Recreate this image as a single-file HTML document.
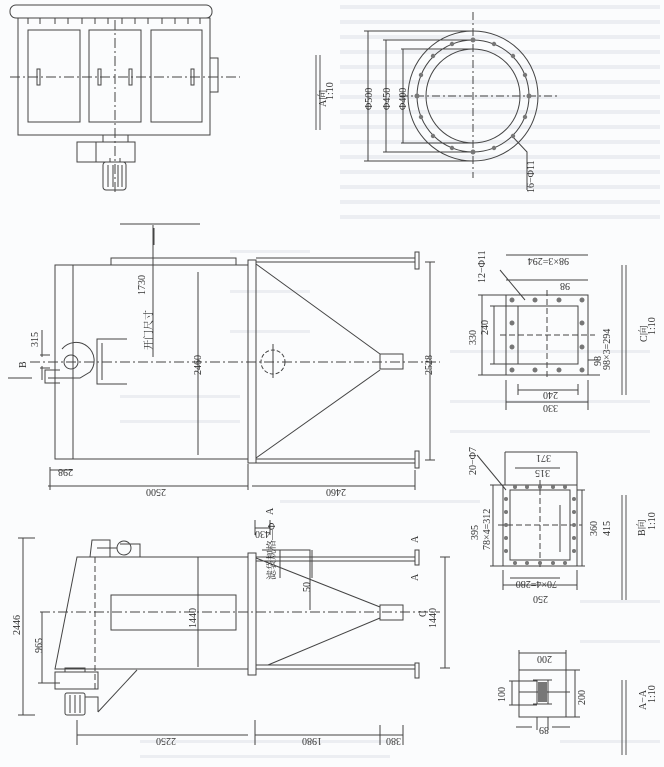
<!DOCTYPE html>
<html><head><meta charset="utf-8"><style>
html,body{margin:0;padding:0;background:#fbfcfd;}
svg{display:block;}
text{font-family:"Liberation Serif","Noto Serif CJK SC",serif;fill:#333;font-size:10px;}
</style></head><body>
<svg width="664" height="767" viewBox="0 0 664 767" xmlns="http://www.w3.org/2000/svg">
<rect width="664" height="767" fill="#fbfcfd"/>
<g fill="#eceef2">
<rect x="340" y="5" width="320" height="4"/><rect x="340" y="20" width="320" height="4"/><rect x="340" y="35" width="320" height="4"/>
<rect x="340" y="50" width="320" height="4"/><rect x="340" y="65" width="320" height="4"/><rect x="340" y="80" width="320" height="4"/>
<rect x="340" y="95" width="320" height="4"/><rect x="340" y="110" width="320" height="4"/><rect x="340" y="125" width="320" height="4"/>
<rect x="340" y="140" width="320" height="4"/><rect x="340" y="155" width="320" height="4"/><rect x="340" y="170" width="320" height="4"/>
<rect x="340" y="185" width="320" height="4"/><rect x="340" y="200" width="320" height="4"/><rect x="340" y="215" width="320" height="4"/>
<rect x="230" y="250" width="80" height="3"/><rect x="230" y="290" width="80" height="3"/><rect x="230" y="330" width="80" height="3"/>
<rect x="120" y="395" width="120" height="3"/><rect x="120" y="420" width="120" height="3"/><rect x="280" y="500" width="200" height="3"/>
<rect x="450" y="350" width="200" height="3"/><rect x="450" y="400" width="200" height="3"/><rect x="450" y="430" width="200" height="3"/>
<rect x="580" y="600" width="80" height="3"/><rect x="580" y="640" width="80" height="3"/><rect x="560" y="740" width="100" height="3"/>
<rect x="140" y="740" width="250" height="3"/><rect x="140" y="755" width="250" height="3"/>
</g>
<g stroke="#444" stroke-width="1" fill="none">
<rect x="10" y="5" width="202" height="13" rx="6"/>
<rect x="18" y="18" width="192" height="117"/>
<path d="M28 18v6M40 18v6M55 18v6M68 18v6M82 18v6M95 18v6M108 18v6M122 18v6M135 18v6M148 18v6M162 18v6M175 18v6M188 18v6M200 18v6"/>
<rect x="28" y="30" width="52" height="92"/><rect x="89" y="30" width="52" height="92"/><rect x="151" y="30" width="51" height="92"/>
<rect x="37" y="69" width="3" height="16"/><rect x="98" y="69" width="3" height="16"/><rect x="129" y="69" width="3" height="16"/><rect x="191" y="69" width="3" height="16"/>
<rect x="210" y="58" width="8" height="34"/>
<rect x="103" y="135" width="25" height="7"/><rect x="77" y="142" width="58" height="20"/><path d="M96 142v20"/>
<rect x="103" y="162" width="23" height="28" rx="3"/><path d="M108 165v22M113 165v22M118 165v22M122 165v22M110 158v4M120 158v4"/>
<path d="M10 77H240M115 20V195" stroke-dasharray="10 3 2 3"/>
<path d="M120 224H200M154 228V245"/>
<rect x="55" y="265" width="193" height="194"/><path d="M73 265V459"/>
<rect x="111" y="258" width="125" height="7"/>
<rect x="248" y="260" width="8" height="203"/>
<path d="M256 258H415M256 262H415M256 459H415M256 463H415"/>
<rect x="415" y="252" width="4" height="17"/><rect x="415" y="451" width="4" height="17"/>
<path d="M256 264L380 354M256 458L380 370"/>
<rect x="380" y="354" width="23" height="15"/>
<path d="M30 362H440" stroke-dasharray="10 3 2 3"/>
<circle cx="273" cy="362" r="12" stroke-dasharray="4 2"/><path d="M273 344V378"/>
<circle cx="71" cy="362" r="7"/>
<path d="M62 349 A16 16 0 1 1 90 372 L80 378 H48 M60 370 H45 V383 H60"/>
<path d="M127 339H97V384H127M97 339V384M102 343V380"/>
<path d="M430 262V460M425 262H435M425 460H435"/>
<path d="M198 272V455"/>
<path d="M153 225V357"/>
<path d="M50 470H73M50 467V475M48 486H248M252 486H415M248 464V490M415 470V490M50 475V490"/>
<path d="M42 330V357M42 366V380M40 355H50M40 368H50"/>
<path d="M8 378H32"/>
<path d="M77 557H248V669H55Z"/>
<rect x="111" y="595" width="125" height="35"/>
<path d="M95 557V690" stroke-dasharray="6 3"/>
<rect x="248" y="553" width="8" height="122"/>
<path d="M256 557H415M256 561H415M256 665H415M256 669H415"/>
<rect x="415" y="550" width="4" height="15"/><rect x="415" y="663" width="4" height="15"/>
<path d="M256 558L380 607M268 665L380 618"/>
<rect x="380" y="605" width="23" height="15"/>
<path d="M40 612H440" stroke-dasharray="10 3 2 3"/>
<path d="M262 550H310V610"/>
<rect x="55" y="672" width="43" height="17"/><path d="M65 672v-4h20v4"/>
<rect x="65" y="693" width="20" height="22" rx="2"/><path d="M70 695v18M75 695v18M80 695v18M85 697H98V712"/>
<path d="M98 712L137 670"/>
<path d="M90 557L92 540H110V557M120 544h20v13" />
<circle cx="124" cy="548" r="7"/><path d="M97 548H117"/>
<path d="M23 538V715M18 538H35M18 715H35"/>
<path d="M42 612V683M38 683H60"/>
<path d="M198 557V667"/>
<path d="M445 557V668M440 557H450M440 668H450"/>
<path d="M77 735H248M255 735H380M380 735H403M255 720V745M380 725V745M403 725V745M77 720V745"/>
<path d="M255 528H270M255 520V535M270 520V535"/>
<path d="M280 550V578M312 550V578"/>
<circle cx="473" cy="96" r="65"/><circle cx="473" cy="96" r="56"/><circle cx="473" cy="96" r="47"/>
<path d="M473 12V178M400 96H558" stroke-dasharray="8 3 2 3"/>
<path d="M364 31H473M364 161H473M383 40H473M383 152H473M401 49H473M401 143H473M368 31V161M386 40V152M403 49V143"/>
<path d="M512 136L527 152V190"/>
<rect x="506" y="295" width="82" height="80"/><rect x="518" y="306" width="60" height="58"/>
<path d="M547 290V380M500 335H595" stroke-dasharray="6 3"/>
<path d="M478 295H506M478 375H506M490 306H518M490 364H518M482 295V375M494 306V364M506 380V410M588 380V410M518 384V395M578 384V395M506 402H588M518 390H578M506 255H588M506 280H588M525 300L500 270M588 360H600M588 375H600"/>
<rect x="503" y="485" width="74" height="81"/><rect x="510" y="490" width="60" height="70"/>
<path d="M540 480V570M498 525H582" stroke-dasharray="6 3"/>
<path d="M490 485H503M490 566H503M493 485V566M503 570V590M577 570V590M503 585H577M510 578H560M515 468H560M505 452H577M505 452V485M577 452V485M506 490L477 455M577 490H585M577 566H585M582 490V566M560 505V552"/>
<rect x="519" y="670" width="47" height="47"/>
<path d="M537 680V704M548 680V704M533 680H552M533 704H552M519 692H570"/>
<path d="M519 653H566M519 650V670M566 650V670M509 681H537M509 705H537M512 681V705M575 670V717M566 670H580M566 717H580M516 727H532M552 727H570M537 717V730M548 717V730"/>
<path d="M316 55V130M320 55V130M622 265V395M626 265V395M622 495V600M626 495V600M622 680V755M626 680V755" stroke="#555"/>
</g>
<g fill="#777"><circle cx="473" cy="40" r="2.5"/><circle cx="473" cy="152" r="2.5"/><circle cx="417" cy="96" r="2.5"/><circle cx="529" cy="96" r="2.5"/>
<circle cx="452" cy="44" r="2.2"/><circle cx="494" cy="44" r="2.2"/><circle cx="433" cy="56" r="2.2"/><circle cx="513" cy="56" r="2.2"/><circle cx="421" cy="75" r="2.2"/><circle cx="525" cy="75" r="2.2"/>
<circle cx="421" cy="117" r="2.2"/><circle cx="525" cy="117" r="2.2"/><circle cx="433" cy="136" r="2.2"/><circle cx="513" cy="136" r="2.2"/><circle cx="452" cy="148" r="2.2"/><circle cx="494" cy="148" r="2.2"/>
<circle cx="512" cy="300" r="2.5"/><circle cx="535" cy="300" r="2.5"/><circle cx="559" cy="300" r="2.5"/><circle cx="582" cy="300" r="2.5"/>
<circle cx="512" cy="370" r="2.5"/><circle cx="535" cy="370" r="2.5"/><circle cx="559" cy="370" r="2.5"/><circle cx="582" cy="370" r="2.5"/>
<circle cx="512" cy="323" r="2.5"/><circle cx="512" cy="347" r="2.5"/><circle cx="582" cy="323" r="2.5"/><circle cx="582" cy="347" r="2.5"/>
<circle cx="515" cy="487" r="2"/><circle cx="527" cy="487" r="2"/><circle cx="540" cy="487" r="2"/><circle cx="553" cy="487" r="2"/><circle cx="565" cy="487" r="2"/>
<circle cx="515" cy="563" r="2"/><circle cx="527" cy="563" r="2"/><circle cx="540" cy="563" r="2"/><circle cx="553" cy="563" r="2"/><circle cx="565" cy="563" r="2"/>
<circle cx="506" cy="499" r="2"/><circle cx="506" cy="512" r="2"/><circle cx="506" cy="525" r="2"/><circle cx="506" cy="538" r="2"/><circle cx="506" cy="551" r="2"/>
<circle cx="574" cy="499" r="2"/><circle cx="574" cy="512" r="2"/><circle cx="574" cy="525" r="2"/><circle cx="574" cy="538" r="2"/><circle cx="574" cy="551" r="2"/>
<rect x="538" y="682" width="9" height="20"/></g>
<g>
<text transform="translate(326,107) rotate(-90)" font-size="11">A向</text>
<text transform="translate(333,100) rotate(-90)" font-size="8">1:10</text>
<text transform="translate(372,110) rotate(-90)">Φ500</text>
<text transform="translate(390,110) rotate(-90)">Φ450</text>
<text transform="translate(406,110) rotate(-90)">Φ400</text>
<text transform="translate(534,193) rotate(-90)" font-size="9">16−Φ11</text>
<text transform="translate(145,295) rotate(-90)" font-size="9">1730</text>
<text transform="translate(152,350) rotate(-90)" font-size="10">开门尺寸</text>
<text transform="translate(201,375) rotate(-90)" font-size="9">2460</text>
<text transform="translate(432,375) rotate(-90)" font-size="9">2528</text>
<text transform="translate(38,347) rotate(-90)" font-size="9">315</text>
<text transform="translate(26,368) rotate(-90)" font-size="9">B</text>
<text transform="translate(73,469) rotate(180)" font-size="9">298</text>
<text transform="translate(166,489) rotate(180)" font-size="9">2500</text>
<text transform="translate(346,489) rotate(180)" font-size="9">2460</text>
<text transform="translate(20,635) rotate(-90)" font-size="9">2446</text>
<text transform="translate(42,653) rotate(-90)" font-size="9">965</text>
<text transform="translate(196,628) rotate(-90)" font-size="9">1440</text>
<text transform="translate(436,628) rotate(-90)" font-size="9">1440</text>
<text transform="translate(310,592) rotate(-90)" font-size="9">50</text>
<text transform="translate(270,531) rotate(180)" font-size="8">430</text>
<text transform="translate(275,580) rotate(-90)" font-size="5">滤袋规格—Φ</text>
<text transform="translate(273,515) rotate(-90)" font-size="9">A</text>
<text transform="translate(418,543) rotate(-90)" font-size="9">A</text>
<text transform="translate(418,581) rotate(-90)" font-size="9">A</text>
<text transform="translate(426,617) rotate(-90)" font-size="9">C</text>
<text transform="translate(176,738) rotate(180)" font-size="9">2250</text>
<text transform="translate(322,738) rotate(180)" font-size="9">1980</text>
<text transform="translate(401,738) rotate(180)" font-size="9">380</text>
<text transform="translate(485,283) rotate(-90)" font-size="9">12−Φ11</text>
<text transform="translate(569,258) rotate(180)" font-size="9">98×3=294</text>
<text transform="translate(570,283) rotate(180)" font-size="9">98</text>
<text transform="translate(476,345) rotate(-90)" font-size="9">330</text>
<text transform="translate(488,335) rotate(-90)" font-size="9">240</text>
<text transform="translate(601,366) rotate(-90)" font-size="8">98</text>
<text transform="translate(610,370) rotate(-90)" font-size="8">98×3=294</text>
<text transform="translate(558,392) rotate(180)" font-size="9">240</text>
<text transform="translate(558,405) rotate(180)" font-size="9">330</text>
<text transform="translate(647,342) rotate(-90)" font-size="11">C向</text>
<text transform="translate(655,335) rotate(-90)" font-size="8">1:10</text>
<text transform="translate(476,475) rotate(-90)" font-size="9">20−Φ7</text>
<text transform="translate(551,455) rotate(180)" font-size="9">371</text>
<text transform="translate(550,470) rotate(180)" font-size="9">315</text>
<text transform="translate(478,540) rotate(-90)" font-size="9">395</text>
<text transform="translate(490,550) rotate(-90)" font-size="8">78×4=312</text>
<text transform="translate(597,536) rotate(-90)" font-size="9">360</text>
<text transform="translate(610,536) rotate(-90)" font-size="9">415</text>
<text transform="translate(557,581) rotate(180)" font-size="8">70×4=280</text>
<text transform="translate(548,596) rotate(180)" font-size="9">250</text>
<text transform="translate(645,536) rotate(-90)" font-size="11">B向</text>
<text transform="translate(655,530) rotate(-90)" font-size="8">1:10</text>
<text transform="translate(552,656) rotate(180)" font-size="9">200</text>
<text transform="translate(505,702) rotate(-90)" font-size="9">100</text>
<text transform="translate(585,705) rotate(-90)" font-size="9">200</text>
<text transform="translate(549,727) rotate(180)" font-size="9">89</text>
<text transform="translate(646,710) rotate(-90)" font-size="11">A−A</text>
<text transform="translate(655,703) rotate(-90)" font-size="8">1:10</text>
</g>
</svg>
</body></html>
